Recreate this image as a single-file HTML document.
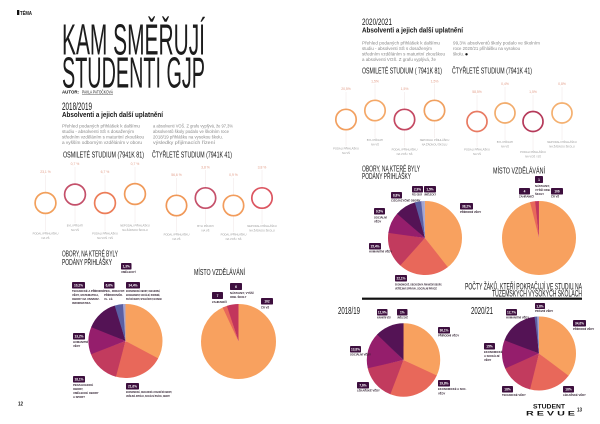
<!DOCTYPE html>
<html><head><meta charset="utf-8">
<style>
html,body{margin:0;padding:0;background:#fff;}
svg{display:block;}
text{font-family:"Liberation Sans","DejaVu Sans",sans-serif;}
.c{fill:#141414;}
.b{font-size:4.2px;fill:#8a8a8a;}
.bx{fill:#3d0f3e;}
.bt{font-size:3.2px;fill:#fff;font-weight:bold;text-anchor:middle;}
.cap{font-size:2.7px;fill:#2a1a2a;font-weight:bold;}
.rt{font-size:3.4px;fill:#e3a08c;text-anchor:middle;}
.rb{font-size:2.7px;fill:#9a9a9a;text-anchor:middle;}
.vl{stroke:#efe6e6;stroke-width:0.5;}
</style></head>
<body>
<svg width="600" height="424" viewBox="0 0 600 424" xmlns="http://www.w3.org/2000/svg">
<rect width="600" height="424" fill="#fff"/>

<!-- ============ LEFT PAGE ============ -->
<rect x="17" y="10" width="2.3" height="5" fill="#111"/>
<text class="c" x="20" y="15" font-size="5" font-weight="bold" textLength="12" lengthAdjust="spacingAndGlyphs">TÉMA</text>

<text x="62" y="54.5" font-size="44" fill="#1c1c1c" textLength="143" lengthAdjust="spacingAndGlyphs">KAM SMĚŘUJÍ</text>
<text x="62" y="87.5" font-size="44" fill="#1c1c1c" textLength="143" lengthAdjust="spacingAndGlyphs">STUDENTI GJP</text>

<text class="c" x="62" y="93.5" font-size="4.3" font-weight="bold" textLength="17" lengthAdjust="spacingAndGlyphs">AUTOR:</text>
<text class="c" x="82" y="93.5" font-size="4.3" textLength="31" lengthAdjust="spacingAndGlyphs">PAVLA PATOČKOVÁ</text>
<rect x="82" y="94.2" width="31" height="0.4" fill="#333"/>

<text class="c" x="62" y="110" font-size="11" textLength="30" lengthAdjust="spacingAndGlyphs" fill="#222">2018/2019</text>
<text class="c" x="62" y="116.8" font-size="7.4" font-weight="bold" textLength="101" lengthAdjust="spacingAndGlyphs">Absolventi a jejich další uplatnění</text>

<text class="b" x="62" y="127.5" textLength="78" lengthAdjust="spacingAndGlyphs">Přehled podaných přihlášek k dalšímu</text>
<text class="b" x="62" y="133" textLength="72" lengthAdjust="spacingAndGlyphs">studiu - absolventi SŠ s dosaženým</text>
<text class="b" x="62" y="138.5" textLength="82" lengthAdjust="spacingAndGlyphs">středním vzděláním s maturitní zkouškou</text>
<text class="b" x="62" y="144" textLength="80" lengthAdjust="spacingAndGlyphs">a vyšším odborným vzděláním v oboru</text>
<text class="b" x="153" y="127.5" textLength="80" lengthAdjust="spacingAndGlyphs">a absolventi VOŠ. Z grafu vyplývá, že 97,3%</text>
<text class="b" x="153" y="133" textLength="76" lengthAdjust="spacingAndGlyphs">absolventů školy podalo ve školním roce</text>
<text class="b" x="153" y="138.5" textLength="70" lengthAdjust="spacingAndGlyphs">2018/19 přihlášku na vysokou školu.</text>
<text class="b" x="153" y="144" textLength="62" lengthAdjust="spacingAndGlyphs">výsledky přijímacích řízení</text>

<text class="c" x="63" y="157.5" font-size="8" textLength="81" lengthAdjust="spacingAndGlyphs">OSMILETÉ STUDIUM (7941K 81)</text>
<text class="c" x="152" y="157.5" font-size="8" textLength="80" lengthAdjust="spacingAndGlyphs">ČTYŘLETÉ STUDIUM (7941K 41)</text>

<!-- left rings -->
<g fill="none" stroke-width="1.7">
<line class="vl" x1="45.5" y1="175" x2="45.5" y2="192"/><line class="vl" x1="45.5" y1="214" x2="45.5" y2="231"/>
<line class="vl" x1="75" y1="167" x2="75" y2="184"/><line class="vl" x1="75" y1="205" x2="75" y2="223"/>
<line class="vl" x1="105" y1="175" x2="105" y2="192"/><line class="vl" x1="105" y1="214" x2="105" y2="231"/>
<line class="vl" x1="135" y1="167" x2="135" y2="183"/><line class="vl" x1="135" y1="205" x2="135" y2="223"/>
<line class="vl" x1="176.5" y1="178" x2="176.5" y2="195"/><line class="vl" x1="176.5" y1="216" x2="176.5" y2="232"/>
<line class="vl" x1="205.5" y1="170" x2="205.5" y2="187"/><line class="vl" x1="205.5" y1="209" x2="205.5" y2="224"/>
<line class="vl" x1="233.5" y1="178" x2="233.5" y2="195"/><line class="vl" x1="233.5" y1="216" x2="233.5" y2="232"/>
<line class="vl" x1="262" y1="170" x2="262" y2="187"/><line class="vl" x1="262" y1="209" x2="262" y2="224"/>
<circle cx="45.5" cy="203" r="10.4" stroke="#f2a05c"/>
<circle cx="75" cy="194.5" r="10.4" stroke="#c4506a"/>
<circle cx="105" cy="203" r="10.4" stroke="#ec7d58"/>
<circle cx="135" cy="194" r="10.4" stroke="#f09a5a"/>
<circle cx="176.5" cy="205.5" r="10.2" stroke="#f09858"/>
<circle cx="205.5" cy="198" r="10.2" stroke="#c5506a"/>
<circle cx="233.5" cy="205.5" r="10.2" stroke="#f29c5c"/>
<circle cx="262" cy="198" r="10.2" stroke="#dc5560"/>
</g>
<text class="rt" x="45.5" y="173">23,1 %</text>
<text class="rt" x="75" y="165">0,7 %</text>
<text class="rt" x="105" y="173">6,7 %</text>
<text class="rt" x="135" y="165">0,7 %</text>
<text class="rt" x="176.5" y="176">56,6 %</text>
<text class="rt" x="205.5" y="168.5">3,8 %</text>
<text class="rt" x="233.5" y="176">0,9 %</text>
<text class="rt" x="262" y="168.5">3,8 %</text>

<text class="rb" x="45.5" y="234.5">PODALI PŘIHLÁŠKU</text><text class="rb" x="45.5" y="239">NA VŠ</text>
<text class="rb" x="75" y="226.5">BYLI PŘIJATI</text><text class="rb" x="75" y="231">NA VŠ</text>
<text class="rb" x="105" y="234.5">PODALI PŘIHLÁŠKU</text><text class="rb" x="105" y="239">NA VOŠ / SŠ</text>
<text class="rb" x="135" y="226.5">NEPODALI PŘIHLÁŠKU</text><text class="rb" x="135" y="231">NA ŽÁDNOU ŠKOLU</text>
<text class="rb" x="176.5" y="235.5">PODALI PŘIHLÁŠKU</text><text class="rb" x="176.5" y="240">NA VŠ</text>
<text class="rb" x="205.5" y="227">BYLI PŘIJATI</text><text class="rb" x="205.5" y="231.5">NA VŠ</text>
<text class="rb" x="233.5" y="235.5">PODALI PŘIHLÁŠKU</text><text class="rb" x="233.5" y="240">NA VOŠ / SŠ</text>
<text class="rb" x="262" y="227">NEPODALI PŘIHLÁŠKU</text><text class="rb" x="262" y="231.5">NA ŽÁDNOU ŠKOLU</text>

<text class="c" x="62" y="256.5" font-size="8.5" textLength="56" lengthAdjust="spacingAndGlyphs">OBORY, NA KTERÉ BYLY</text>
<text class="c" x="62" y="265" font-size="8.5" textLength="50" lengthAdjust="spacingAndGlyphs">PODÁNY PŘIHLÁŠKY</text>
<text class="c" x="194" y="275" font-size="8.5" textLength="51" lengthAdjust="spacingAndGlyphs">MÍSTO VZDĚLÁVÁNÍ</text>

<!-- pie 1 -->
<g fill="none" stroke-width="37">
<circle cx="125.5" cy="341" r="18.5" stroke="#f8a15f" stroke-dasharray="38.4 200" transform="rotate(-90 125.5 341)"/>
<circle cx="125.5" cy="341" r="18.5" stroke="#e8685a" stroke-dasharray="25.2 200" transform="rotate(28 125.5 341)"/>
<circle cx="125.5" cy="341" r="18.5" stroke="#c23b5e" stroke-dasharray="17.7 200" transform="rotate(105 125.5 341)"/>
<circle cx="125.5" cy="341" r="18.5" stroke="#951e6c" stroke-dasharray="14.2 200" transform="rotate(159 125.5 341)"/>
<circle cx="125.5" cy="341" r="18.5" stroke="#541355" stroke-dasharray="16.8 200" transform="rotate(202 125.5 341)"/>
<circle cx="125.5" cy="341" r="18.5" stroke="#5b5fa3" stroke-dasharray="4.5 200" transform="rotate(253 125.5 341)"/>
<circle cx="125.5" cy="341" r="18.5" stroke="#a4a4d0" stroke-dasharray="1.3 200" transform="rotate(266 125.5 341)"/>
</g>
<rect class="bx" x="121" y="263" width="10.5" height="6.5" rx="0.8"/><text class="bt" x="126.25" y="267.6">1,3%</text>
<text class="cap" x="121" y="273">UMĚLECKÝ</text>
<rect class="bx" x="72" y="282" width="13" height="6.5" rx="0.8"/><text class="bt" x="78.5" y="286.6">10,2%</text>
<text class="cap" x="72" y="292">TECHNICKÉ A PŘÍRODNÍ</text>
<text class="cap" x="72" y="296">VĚDY, MATEMATIKA,</text>
<text class="cap" x="72" y="300">OBORY NA UNIVERZ.</text>
<text class="cap" x="72" y="304">INFORMATIKA</text>
<rect class="bx" x="104" y="282" width="10.5" height="6.5" rx="0.8"/><text class="bt" x="109.25" y="286.6">6,6%</text>
<text class="cap" x="104" y="292">PED., ZDRAVOT.</text>
<text class="cap" x="104" y="296">PŘÍRODOVĚD.</text>
<text class="cap" x="104" y="300">VL. LÉ.</text>
<rect class="bx" x="126" y="282" width="14" height="6.5" rx="0.8"/><text class="bt" x="133" y="286.6">34,4%</text>
<text class="cap" x="126" y="292" textLength="34" lengthAdjust="spacingAndGlyphs">EKONOMICKÉ OBORY, OBCHODNÍ,</text>
<text class="cap" x="126" y="296" textLength="34" lengthAdjust="spacingAndGlyphs">MANAGEMENT, SOCIÁLNÍ, RODINNÉ,</text>
<text class="cap" x="126" y="300" textLength="36" lengthAdjust="spacingAndGlyphs">PRÁVNÍ OBORY, SPOLEČNOST, EKONOM.</text>
<rect class="bx" x="73" y="333" width="12" height="6.5" rx="0.8"/><text class="bt" x="79" y="337.6">13,2%</text>
<text class="cap" x="73" y="343">HUMANITNÍ</text><text class="cap" x="73" y="347">VĚDY</text>
<rect class="bx" x="73" y="376" width="12" height="6.5" rx="0.8"/><text class="bt" x="79" y="380.6">18,1%</text>
<text class="cap" x="73" y="386">PEDAGOGICKÉ</text><text class="cap" x="73" y="390">OBORY,</text>
<text class="cap" x="73" y="394">UMĚLECKÉ OBORY</text><text class="cap" x="73" y="398">A SPORT</text>
<rect class="bx" x="126" y="383" width="13" height="6.5" rx="0.8"/><text class="bt" x="132.5" y="387.6">21,6%</text>
<text class="cap" x="126" y="393" textLength="46" lengthAdjust="spacingAndGlyphs">EKONOMICKÉ, OBCHODNÍ A FINANČNÍ OBORY,</text>
<text class="cap" x="126" y="397" textLength="44" lengthAdjust="spacingAndGlyphs">VEŘEJNÁ SPRÁVA, SOCIÁLNÍ PRÁCE, OBORY</text>

<!-- pie 2 -->
<g fill="none" stroke-width="37.5">
<circle cx="238.5" cy="341.5" r="18.75" stroke="#f8a15f" stroke-dasharray="109.9 200" transform="rotate(-90 238.5 341.5)"/>
<circle cx="238.5" cy="341.5" r="18.75" stroke="#e8685a" stroke-dasharray="2.5 200" transform="rotate(245 238.5 341.5)"/>
<circle cx="238.5" cy="341.5" r="18.75" stroke="#c2355c" stroke-dasharray="5.9 200" transform="rotate(252 238.5 341.5)"/>
</g>
<rect class="bx" x="212" y="292" width="11" height="7" rx="0.8"/><text class="bt" x="217.5" y="296.8">7</text>
<text class="cap" x="212" y="303">ZAHRANIČÍ</text>
<rect class="bx" x="230" y="283" width="12" height="7" rx="0.8"/><text class="bt" x="236" y="287.8">6</text>
<text class="cap" x="230" y="294">NÁSTAVBY, VYŠŠÍ</text><text class="cap" x="230" y="298">ODB. ŠKOLY</text>
<rect class="bx" x="261" y="298" width="12" height="6.5" rx="0.8"/><text class="bt" x="267" y="302.6">102</text>
<text class="cap" x="261" y="308.5">ČR VŠ</text>

<text class="c" x="18" y="405.5" font-size="5.5" font-weight="bold" textLength="5" lengthAdjust="spacingAndGlyphs">12</text>

<!-- ============ RIGHT PAGE ============ -->
<text class="c" x="362" y="25" font-size="9.5" textLength="30" lengthAdjust="spacingAndGlyphs" fill="#222">2020/2021</text>
<text class="c" x="362" y="32.5" font-size="7.4" font-weight="bold" textLength="101" lengthAdjust="spacingAndGlyphs">Absolventi a jejich další uplatnění</text>

<text class="b" x="362" y="44.5" textLength="78" lengthAdjust="spacingAndGlyphs">Přehled podaných přihlášek k dalšímu</text>
<text class="b" x="362" y="50" textLength="70" lengthAdjust="spacingAndGlyphs">studiu - absolventi SŠ s dosaženým</text>
<text class="b" x="362" y="55.5" textLength="83" lengthAdjust="spacingAndGlyphs">středním vzděláním s maturitní zkouškou</text>
<text class="b" x="362" y="61" textLength="74" lengthAdjust="spacingAndGlyphs">a absolventi VOŠ. Z grafu vyplývá, že</text>
<text class="b" x="453" y="44.5" textLength="87" lengthAdjust="spacingAndGlyphs">99,3% absolventů školy podalo ve školním</text>
<text class="b" x="453" y="50" textLength="67" lengthAdjust="spacingAndGlyphs">roce 2020/21 přihlášku na vysokou</text>
<text class="b" x="453" y="55.5" textLength="11" lengthAdjust="spacingAndGlyphs">školu.</text>
<circle cx="466.5" cy="54.3" r="1.2" fill="#111"/>

<text class="c" x="362" y="73.5" font-size="8.5" textLength="80" lengthAdjust="spacingAndGlyphs">OSMILETÉ STUDIUM ( 7941K 81)</text>
<text class="c" x="452" y="73.5" font-size="8.5" textLength="80" lengthAdjust="spacingAndGlyphs">ČTYŘLETÉ STUDIUM (7941K 41)</text>

<g fill="none" stroke-width="1.7">
<line class="vl" x1="346" y1="92" x2="346" y2="109"/><line class="vl" x1="346" y1="130" x2="346" y2="146"/>
<line class="vl" x1="375" y1="84" x2="375" y2="100"/><line class="vl" x1="375" y1="121" x2="375" y2="138"/>
<line class="vl" x1="404.5" y1="92" x2="404.5" y2="109"/><line class="vl" x1="404.5" y1="130" x2="404.5" y2="147"/>
<line class="vl" x1="434.5" y1="84" x2="434.5" y2="100"/><line class="vl" x1="434.5" y1="121" x2="434.5" y2="138"/>
<line class="vl" x1="477" y1="95" x2="477" y2="111"/><line class="vl" x1="477" y1="132" x2="477" y2="147"/>
<line class="vl" x1="505" y1="87" x2="505" y2="103"/><line class="vl" x1="505" y1="123" x2="505" y2="140"/>
<line class="vl" x1="533" y1="95" x2="533" y2="111"/><line class="vl" x1="533" y1="132" x2="533" y2="150"/>
<line class="vl" x1="562" y1="87" x2="562" y2="103"/><line class="vl" x1="562" y1="123" x2="562" y2="140"/>
<circle cx="346" cy="119.5" r="10.2" stroke="#f2a060"/>
<circle cx="375" cy="110.5" r="10.2" stroke="#f4a868"/>
<circle cx="404.5" cy="119.5" r="10.2" stroke="#c44862"/>
<circle cx="434.5" cy="110.5" r="10.2" stroke="#f0a060"/>
<circle cx="477" cy="121.5" r="10" stroke="#e87a62"/>
<circle cx="505" cy="113" r="10" stroke="#f2ac6c"/>
<circle cx="533" cy="121.5" r="10" stroke="#b53a5a"/>
<circle cx="562" cy="113" r="10" stroke="#f4b070"/>
</g>
<text class="rt" x="346" y="90">20,5%</text>
<text class="rt" x="375" y="82.5">1,5%</text>
<text class="rt" x="404.5" y="90">1,5%</text>
<text class="rt" x="434.5" y="82.5">1,5%</text>
<text class="rt" x="477" y="93">58,5%</text>
<text class="rt" x="505" y="85">0,4%</text>
<text class="rt" x="533" y="93">1,5%</text>
<text class="rt" x="562" y="85">0,8%</text>

<text class="rb" x="346" y="149.5">PODALI PŘIHLÁŠKU</text><text class="rb" x="346" y="154">NA VŠ</text>
<text class="rb" x="375" y="141">BYLI PŘIJATI</text><text class="rb" x="375" y="145.5">NA VŠ</text>
<text class="rb" x="404.5" y="150.5">PODALI PŘIHLÁŠKU</text><text class="rb" x="404.5" y="155">NA VOŠ / SŠ</text>
<text class="rb" x="434.5" y="141">NEPODALI PŘIHLÁŠKU</text><text class="rb" x="434.5" y="145.5">NA ŽÁDNOU ŠKOLU</text>
<text class="rb" x="477" y="150.5">PODALI PŘIHLÁŠKU</text><text class="rb" x="477" y="155">NA VŠ</text>
<text class="rb" x="505" y="143">BYLI PŘIJATI</text><text class="rb" x="505" y="147.5">NA VŠ</text>
<text class="rb" x="533" y="153">PODALI PŘIHLÁŠKU</text><text class="rb" x="533" y="157.5">NA VOŠ / SŠ</text>
<text class="rb" x="562" y="143">NEPODALI PŘIHLÁŠKU</text><text class="rb" x="562" y="147.5">NA ŽÁDNOU ŠKOLU</text>

<text class="c" x="362" y="171.5" font-size="8.5" textLength="58" lengthAdjust="spacingAndGlyphs">OBORY, NA KTERÉ BYLY</text>
<text class="c" x="362" y="179" font-size="8.5" textLength="49" lengthAdjust="spacingAndGlyphs">PODÁNY PŘIHLÁŠKY</text>
<text class="c" x="493" y="173.5" font-size="8.5" textLength="52" lengthAdjust="spacingAndGlyphs">MÍSTO VZDĚLÁVÁNÍ</text>

<!-- pie 3 -->
<g fill="none" stroke-width="37">
<circle cx="425" cy="238" r="18.5" stroke="#f8a15f" stroke-dasharray="46.1 200" transform="rotate(-90 425 238)"/>
<circle cx="425" cy="238" r="18.5" stroke="#e8685a" stroke-dasharray="26.1 200" transform="rotate(52 425 238)"/>
<circle cx="425" cy="238" r="18.5" stroke="#c23b5e" stroke-dasharray="18.4 200" transform="rotate(132 425 238)"/>
<circle cx="425" cy="238" r="18.5" stroke="#951e6c" stroke-dasharray="11 200" transform="rotate(188 425 238)"/>
<circle cx="425" cy="238" r="18.5" stroke="#541355" stroke-dasharray="11 200" transform="rotate(221 425 238)"/>
<circle cx="425" cy="238" r="18.5" stroke="#5b5fa3" stroke-dasharray="3.5 200" transform="rotate(254 425 238)"/>
<circle cx="425" cy="238" r="18.5" stroke="#a4a4d0" stroke-dasharray="1.9 200" transform="rotate(264 425 238)"/>
</g>
<rect class="bx" x="391" y="192" width="11" height="6.5" rx="0.8"/><text class="bt" x="396.5" y="196.6">8,8%</text>
<text class="cap" x="391" y="201.5">CIZOJAZYČNÉ OBORY</text>
<rect class="bx" x="412" y="186" width="11" height="6.5" rx="0.8"/><text class="bt" x="417.5" y="190.6">2,9%</text>
<text class="cap" x="412" y="195.5" textLength="10" lengthAdjust="spacingAndGlyphs">PED. OBOR</text>
<rect class="bx" x="424" y="186" width="12" height="6.5" rx="0.8"/><text class="bt" x="430" y="190.6">1,5%</text>
<text class="cap" x="424" y="195.5" textLength="12" lengthAdjust="spacingAndGlyphs">UMĚLECKÝ</text>
<rect class="bx" x="374" y="208" width="11" height="6.5" rx="0.8"/><text class="bt" x="379.5" y="212.6">9,5%</text>
<text class="cap" x="374" y="218.5">SOCIÁLNÍ</text><text class="cap" x="374" y="222.5">VĚDY</text>
<rect class="bx" x="460" y="203" width="13" height="6.5" rx="0.8"/><text class="bt" x="466.5" y="207.6">38,2%</text>
<text class="cap" x="460" y="213">PŘÍRODNÍ VĚDY</text>
<rect class="bx" x="369" y="243" width="12" height="6.5" rx="0.8"/><text class="bt" x="375" y="247.6">15,4%</text>
<text class="cap" x="369" y="252.5">HUMANITNÍ VĚDY</text>
<rect class="bx" x="395" y="275" width="12" height="6.5" rx="0.8"/><text class="bt" x="401" y="279.6">22,1%</text>
<text class="cap" x="395" y="285.5" textLength="47" lengthAdjust="spacingAndGlyphs">EKONOMICKÉ, OBCHODNÍ A FINANČNÍ OBORY,</text>
<text class="cap" x="395" y="289.5" textLength="42" lengthAdjust="spacingAndGlyphs">VEŘEJNÁ SPRÁVA, SOCIÁLNÍ PRÁCE</text>

<!-- pie 4 -->
<g fill="none" stroke-width="37">
<circle cx="539" cy="238" r="18.5" stroke="#f8a15f" stroke-dasharray="112 200" transform="rotate(-90 539 238)"/>
<circle cx="539" cy="238" r="18.5" stroke="#e8685a" stroke-dasharray="2.8 200" transform="rotate(256 539 238)"/>
<circle cx="539" cy="238" r="18.5" stroke="#c2355c" stroke-dasharray="1.94 200" transform="rotate(264 539 238)"/>
</g>
<rect class="bx" x="535" y="176" width="8" height="7" rx="0.8"/><text class="bt" x="539" y="180.8">1</text>
<text class="cap" x="535" y="187">NÁSTAVBY,</text><text class="cap" x="535" y="191">VYŠŠÍ ODB.</text><text class="cap" x="535" y="195">ŠKOLY</text>
<rect class="bx" x="519" y="188" width="11" height="6.5" rx="0.8"/><text class="bt" x="524.5" y="192.6">4</text>
<text class="cap" x="519" y="197.5">ZAHRANIČÍ</text>
<rect class="bx" x="551" y="188" width="12" height="6.5" rx="0.8"/><text class="bt" x="557" y="192.6">106</text>
<text class="cap" x="551" y="197.5">ČR VŠ</text>

<text class="c" x="465" y="289.5" font-size="9.5" textLength="117" lengthAdjust="spacingAndGlyphs">POČTY ŽÁKŮ, KTEŘÍ POKRAČUJÍ VE STUDIU NA</text>
<text class="c" x="492" y="296.5" font-size="9.5" textLength="90" lengthAdjust="spacingAndGlyphs">TUZEMSKÝCH VYSOKÝCH ŠKOLÁCH</text>
<rect x="362" y="297.6" width="220" height="2.2" fill="#111"/>

<text class="c" x="338" y="314" font-size="10" textLength="22" lengthAdjust="spacingAndGlyphs" fill="#333">2018/19</text>
<text class="c" x="471" y="314" font-size="10" textLength="22" lengthAdjust="spacingAndGlyphs" fill="#333">2020/21</text>

<!-- pie 5 -->
<g fill="none" stroke-width="36.7">
<circle cx="403.5" cy="360" r="18.35" stroke="#f8a15f" stroke-dasharray="37.1 200" transform="rotate(-90 403.5 360)"/>
<circle cx="403.5" cy="360" r="18.35" stroke="#e8685a" stroke-dasharray="27.8 200" transform="rotate(25 403.5 360)"/>
<circle cx="403.5" cy="360" r="18.35" stroke="#c23b5e" stroke-dasharray="18.2 200" transform="rotate(111 403.5 360)"/>
<circle cx="403.5" cy="360" r="18.35" stroke="#951e6c" stroke-dasharray="18.5 200" transform="rotate(167 403.5 360)"/>
<circle cx="403.5" cy="360" r="18.35" stroke="#541355" stroke-dasharray="14.73 200" transform="rotate(224 403.5 360)"/>
</g>
<rect class="bx" x="377" y="309" width="10.5" height="6.5" rx="0.8"/><text class="bt" x="382.25" y="313.6">12,9%</text>
<text class="cap" x="377" y="318.5" textLength="14" lengthAdjust="spacingAndGlyphs">HUMANITNÍ VĚDY</text>
<rect class="bx" x="397" y="309" width="10.5" height="6.5" rx="0.8"/><text class="bt" x="402.25" y="313.6">1%</text>
<text class="cap" x="397" y="318.5" textLength="11" lengthAdjust="spacingAndGlyphs">UMĚLECKÉ</text>
<rect class="bx" x="438" y="327" width="12" height="6.5" rx="0.8"/><text class="bt" x="444" y="331.6">36,1%</text>
<text class="cap" x="438" y="336.5">PŘÍRODNÍ VĚDY</text>
<rect class="bx" x="350" y="346" width="11" height="6.5" rx="0.8"/><text class="bt" x="355.5" y="350.6">13,8%</text>
<text class="cap" x="350" y="355.5">SOCIÁLNÍ VĚDY</text>
<rect class="bx" x="438" y="380" width="12" height="6.5" rx="0.8"/><text class="bt" x="444" y="384.6">19,8%</text>
<text class="cap" x="438" y="390">EKONOMICKÉ A SOC.</text><text class="cap" x="438" y="394.5">VĚDY</text>
<rect class="bx" x="357" y="382" width="12" height="6.5" rx="0.8"/><text class="bt" x="363" y="386.6">7,6%</text>
<text class="cap" x="357" y="391.5">LÉKAŘSKÉ VĚDY</text>

<!-- pie 6 -->
<g fill="none" stroke-width="37">
<circle cx="539" cy="353.5" r="18.5" stroke="#f8a15f" stroke-dasharray="41.3 200" transform="rotate(-90 539 353.5)"/>
<circle cx="539" cy="353.5" r="18.5" stroke="#e8685a" stroke-dasharray="21.9 200" transform="rotate(37 539 353.5)"/>
<circle cx="539" cy="353.5" r="18.5" stroke="#c23b5e" stroke-dasharray="17.1 200" transform="rotate(104 539 353.5)"/>
<circle cx="539" cy="353.5" r="18.5" stroke="#951e6c" stroke-dasharray="14.8 200" transform="rotate(156 539 353.5)"/>
<circle cx="539" cy="353.5" r="18.5" stroke="#541355" stroke-dasharray="20.3 200" transform="rotate(201 539 353.5)"/>
<circle cx="539" cy="353.5" r="18.5" stroke="#5b5fa3" stroke-dasharray="1.5 200" transform="rotate(263 539 353.5)"/>
<circle cx="539" cy="353.5" r="18.5" stroke="#a4a4d0" stroke-dasharray="0.97 200" transform="rotate(267 539 353.5)"/>
</g>
<rect class="bx" x="535" y="303" width="10" height="6" rx="0.8"/><text class="bt" x="540" y="307.3">1,8%</text>
<text class="cap" x="535" y="312">PRÁVNÍ VĚDY</text>
<rect class="bx" x="506" y="309" width="11" height="6.5" rx="0.8"/><text class="bt" x="511.5" y="313.6">12,7%</text>
<text class="cap" x="506" y="318.5">HUMANITNÍ VĚDY</text>
<rect class="bx" x="573" y="320" width="13" height="6.5" rx="0.8"/><text class="bt" x="579.5" y="324.6">34,6%</text>
<text class="cap" x="573" y="330">PŘÍRODNÍ VĚDY</text>
<rect class="bx" x="484" y="343" width="11" height="6.5" rx="0.8"/><text class="bt" x="489.5" y="347.6">15%</text>
<text class="cap" x="484" y="353">EKONOMICKÉ</text><text class="cap" x="484" y="357">A SOCIÁLNÍ</text><text class="cap" x="484" y="361">VĚDY</text>
<rect class="bx" x="502" y="386" width="11" height="6.5" rx="0.8"/><text class="bt" x="507.5" y="390.6">18%</text>
<text class="cap" x="502" y="396">TECHNICKÉ VĚDY</text>
<rect class="bx" x="563" y="386" width="11" height="6.5" rx="0.8"/><text class="bt" x="568.5" y="390.6">18%</text>
<text class="cap" x="563" y="396">LÉKAŘSKÉ VĚDY</text>

<!-- logo -->
<text class="c" x="533" y="408.5" font-size="6.3" font-weight="bold" textLength="32" lengthAdjust="spacingAndGlyphs">STUDENT</text>
<text class="c" x="526" y="415.5" font-size="6.3" font-weight="bold" textLength="49" lengthAdjust="spacingAndGlyphs">R  E  V  U  E</text>
<text class="c" x="577" y="411.5" font-size="5.2" font-weight="bold" textLength="5" lengthAdjust="spacingAndGlyphs">13</text>
</svg>
</body></html>
